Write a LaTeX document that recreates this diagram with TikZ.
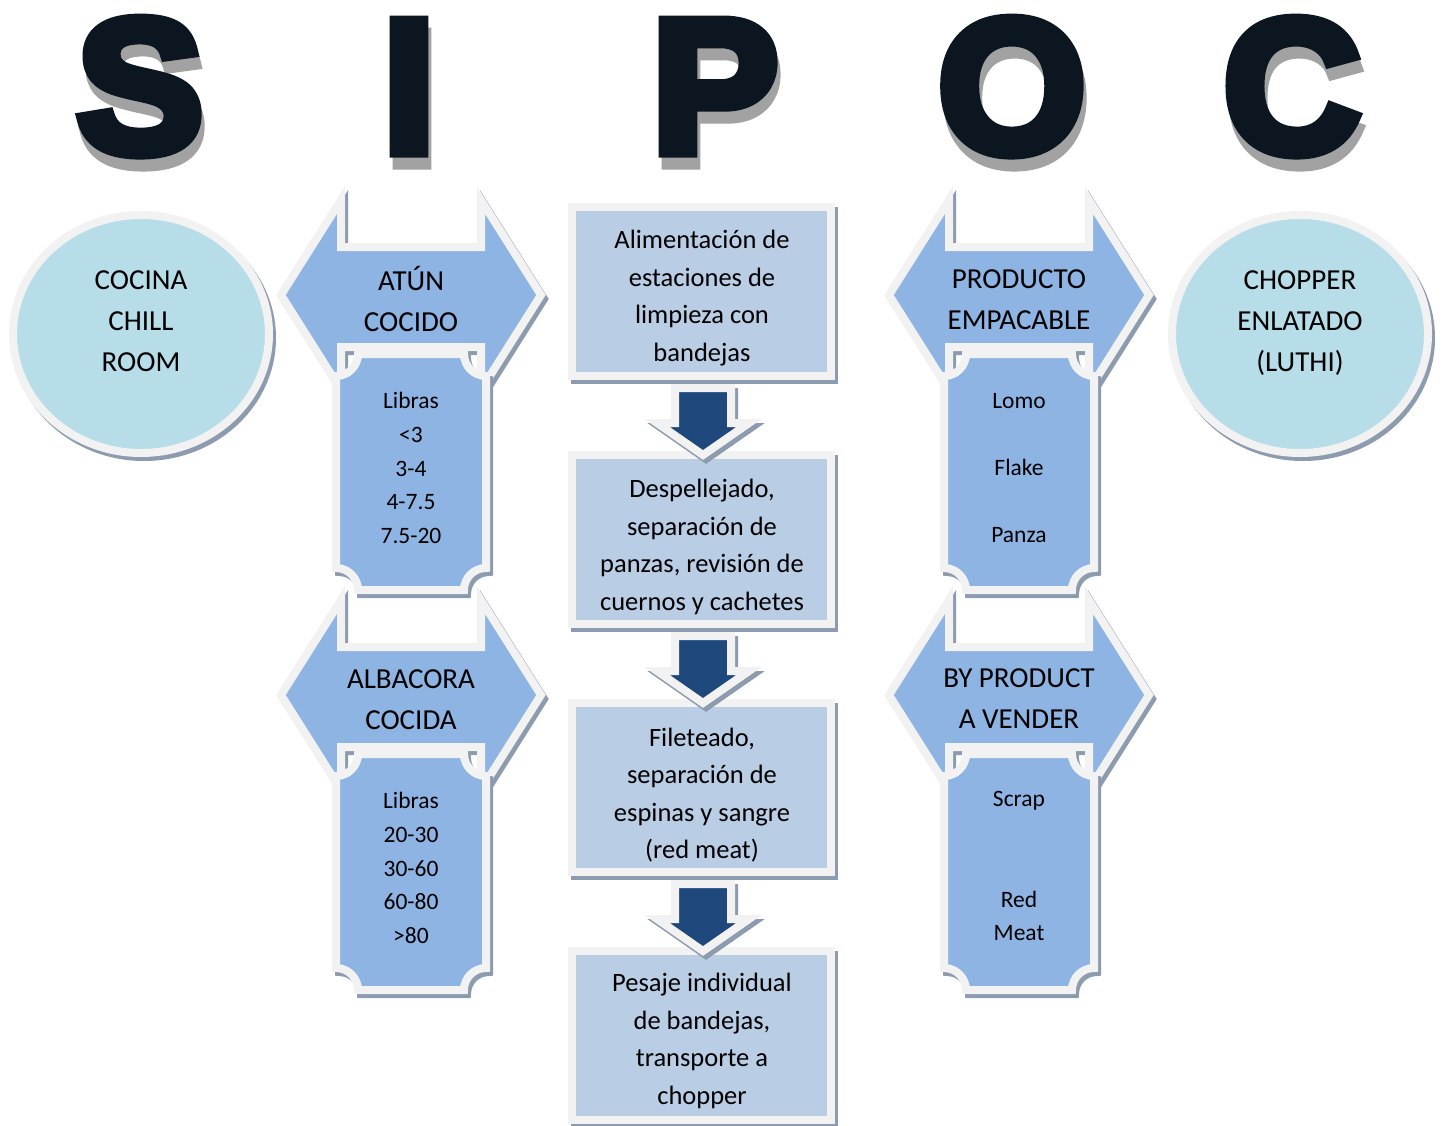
\documentclass[tikz,border=0pt]{standalone}
\usepackage{fontspec}
\setmainfont{Carlito}
\newfontfamily\sipocfont{Liberation Sans}[BoldFont={Liberation Sans Bold},BoldFeatures={FakeBold=6}]
\usetikzlibrary{shadows,shapes.geometric}
\definecolor{arrowblue}{HTML}{8EB4E3}
\definecolor{boxblue}{HTML}{B9CDE5}
\definecolor{circfill}{HTML}{B7DEE8}
\definecolor{darkblue}{HTML}{1F497D}
\definecolor{borderw}{HTML}{F2F2F2}
\definecolor{shadowc}{HTML}{8C9BAE}
\definecolor{letterc}{HTML}{0B1621}
\definecolor{extr}{HTML}{A2A2A2}
\newcommand\sipocletter[4]{%
  \node[letterface, text=extr] (#1x) at ({#2+3},{#3+12}) {#4};
  \node[letterface] (#1) at (#2,#3) {#4};}
\begin{document}
\begin{tikzpicture}[x=1pt,y=-1pt,
  shapebase/.style={draw=borderw, line width=8pt, line join=miter,
    general shadow={shadow xshift=3pt, shadow yshift=-4pt, fill=shadowc, draw=shadowc, line width=8pt}},
  hexarrow/.style={shapebase, fill=arrowblue},
  plaque/.style={shapebase, fill=arrowblue},
  procbox/.style={shapebase, fill=boxblue, minimum width=259pt, minimum height=169pt, inner sep=0pt},
  proctxt/.style={font=\fontsize{26.5}{37.5}\selectfont, align=center, inner sep=0pt},
  downarr/.style={shapebase, fill=darkblue},
  endcirc/.style={shapebase, fill=circfill, ellipse, minimum width=256pt, minimum height=238pt},
  bigtxt/.style={font=\fontsize{29}{41}\selectfont, align=center, inner sep=0pt},
  listtxt/.style={font=\fontsize{23.5}{33.7}\selectfont, align=center, inner sep=0pt},
  letterface/.style={font=\sipocfont\bfseries\fontsize{190}{190}\selectfont, inner sep=0pt, anchor=base, text=letterc},
  hexpic/.pic={\path[hexarrow] (-70,-95) -- (-70,-48) -- (70,-48) -- (70,-95) -- (130,0) -- (70,95)
      -- (70,52) -- (-70,52) -- (-70,95) -- (-130,0) -- cycle;},
  plaquepic/.pic={\path[plaque] (-53,-118) -- (53,-118) arc[start angle=180,end angle=90,radius=22]
      -- (75,96) arc[start angle=270,end angle=180,radius=22]
      -- (-53,118) arc[start angle=360,end angle=270,radius=22]
      -- (-75,-96) arc[start angle=90,end angle=0,radius=22] -- cycle;},
  darrpic/.pic={\path[downarr] (-28,0) -- (28,0) -- (28,35) -- (46,35) -- (0,67) -- (-46,35) -- (-28,35) -- cycle;}
]
\useasboundingbox (0,0) rectangle (1445,1126);
\fill[white] (0,0) rectangle (1445,1126);

% SIPOC letters
\sipocletter{ls}{140}{152}{S}
\sipocletter{li}{409}{152}{I}
\sipocletter{lp}{715}{152}{P}
\sipocletter{lo}{1012}{152}{O}
\sipocletter{lc}{1292}{152}{C}

% end circles
\node[endcirc] (cocina) at (141,334) {};
\node[bigtxt] (cocinatxt) at (141,321) {COCINA\\CHILL\\ROOM};
\node[endcirc] (chopper) at (1300,334) {};
\node[bigtxt] (choppertxt) at (1300,323) {CHOPPER\\ENLATADO\\(LUTHI)};

% input column
\pic at (411,295) {hexpic};
\pic at (411,695) {hexpic};
\pic at (411,472) {plaquepic};
\pic at (411,872) {plaquepic};
\node[bigtxt] (atun) at (411,299) {ATÚN\\COCIDO};
\node[bigtxt] (albacora) at (411,700) {ALBACORA\\COCIDA};
\node[listtxt] (libras1) at (411,468) {Libras\\<3\\3-4\\4-7.5\\7.5-20};
\node[listtxt] (libras2) at (411,868) {Libras\\20-30\\30-60\\60-80\\>80};

% output column
\pic at (1019,295) {hexpic};
\pic at (1019,695) {hexpic};
\pic at (1019,472) {plaquepic};
\pic at (1019,872) {plaquepic};
\node[bigtxt] (producto) at (1019,300) {PRODUCTO\\EMPACABLE};
\node[bigtxt] (byproduct) at (1019,699) {BY PRODUCT\\A VENDER};
\node[listtxt] (lomo) at (1019,468) {Lomo\\~\\Flake\\~\\Panza};
\node[listtxt] (scrap) at (1019,866) {Scrap\\~\\~\\Red\\Meat};

% process column
\node[procbox] (p1) at (701.5,291.5) {};
\node[procbox] (p2) at (701.5,539.5) {};
\node[procbox] (p3) at (701.5,787.5) {};
\node[procbox] (p4) at (701.5,1035.5) {};
\node[proctxt] (p1txt) at (702,298) {Alimentación de\\estaciones de\\limpieza con\\bandejas};
\node[proctxt] (p2txt) at (702,547) {Despellejado,\\separación de\\panzas, revisión de\\cuernos y cachetes};
\node[proctxt] (p3txt) at (702,795) {Fileteado,\\separación de\\espinas y sangre\\(red meat)};
\node[proctxt] (p4txt) at (702,1041) {Pesaje individual\\de bandejas,\\transporte a\\chopper};
\pic at (703,388) {darrpic};
\pic at (703,636) {darrpic};
\pic at (703,884) {darrpic};
\end{tikzpicture}
\end{document}
